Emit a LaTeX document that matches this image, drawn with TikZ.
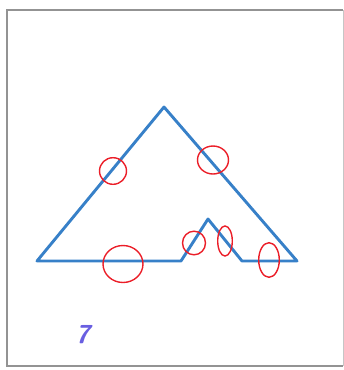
\documentclass[tikz,border=0pt]{standalone}
\usepackage{tikz}

\definecolor{shapeblue}{RGB}{55,128,200}
\definecolor{markred}{RGB}{235,30,40}
\definecolor{labelviolet}{RGB}{105,95,225}

\begin{document}
\begin{tikzpicture}[x=1pt, y=-1pt,
    outline/.style={shapeblue, line width=2.9pt, line join=round, line cap=round},
    mark ring/.style={markred, line width=1.4pt}]
  \useasboundingbox (0,0) rectangle (344,370);

  % Frame
  \draw[gray!85, line width=2pt] (343,10) -- (7,10) -- (7,366) -- (343,366);
  \draw[gray!45, line width=1pt] (343,10) -- (343,366);

  % Corner points of the outline
  \coordinate (left)  at (37,261);
  \coordinate (apex)  at (164,107);
  \coordinate (right) at (297,261);
  \coordinate (bumpa) at (181,261);
  \coordinate (peak)  at (208,219);
  \coordinate (bumpb) at (242,261);

  % Outline
  \draw[outline] (left) -- (apex) -- (right) -- (bumpb) -- (peak) -- (bumpa) -- cycle;

  % Red rings (centre x / centre y / x radius / y radius)
  \foreach \cx/\cy/\rx/\ry in {113/171/13.5/13.3, 213/160/15.5/14,
                               123/264/20/18.5, 194/243/11.5/11.8,
                               225/241/7.3/15, 269/260/10.3/17.3}
    \draw[mark ring] (\cx,\cy) ellipse [x radius=\rx, y radius=\ry];

  % Count label
  \node[text=labelviolet, font=\sffamily\bfseries\slshape\fontsize{26}{26}\selectfont] (count) at (83,335) {7};
\end{tikzpicture}
\end{document}
